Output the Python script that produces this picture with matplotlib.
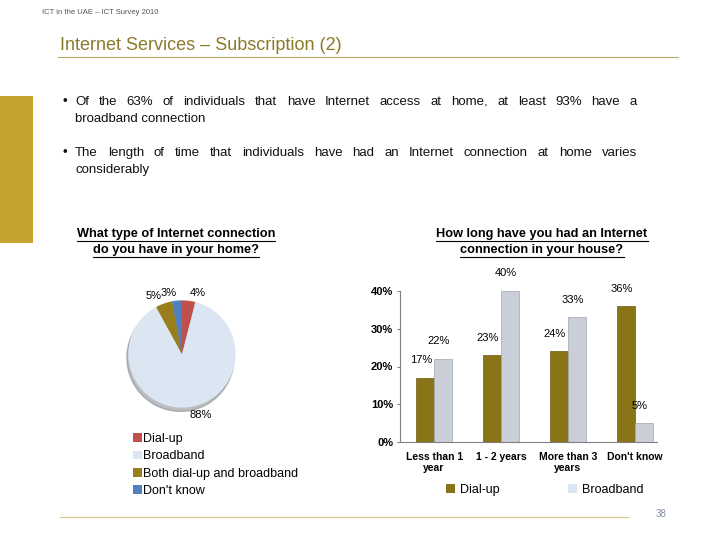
import matplotlib
matplotlib.use("Agg")
import matplotlib.pyplot as plt
from matplotlib.patches import Rectangle, Patch
from matplotlib.lines import Line2D

plt.rcParams['font.family'] = ['Liberation Sans', 'DejaVu Sans']

# pie data
pie_labels = ["Dial-up", "Broadband", "Both dial-up and broadband", "Don't know"]
pie_values = [4, 88, 5, 3]
pie_colors = ["#c0504d", "#dce6f2", "#9b7e1c", "#4f81bd"]

# bar data
bar_cats = ["Less than 1\nyear", "1 - 2 years", "More than 3\nyears", "Don't know"]
dialup = [17, 23, 24, 36]
broadband = [22, 40, 33, 5]
bar_ticks = [0, 10, 20, 30, 40]

bullets = [
    ["Of the 63% of individuals that have Internet access at home, at least 93% have a",
     "broadband connection"],
    ["The length of time that individuals have had an Internet connection at home varies",
     "considerably"],
]

W, H = 720, 540
fig = plt.figure(figsize=(7.2, 5.4), dpi=100)


def fx(x):
    return x / W


def fy(y):
    return 1 - y / H


def px_axes(left, top, right, bottom):
    return fig.add_axes([fx(left), fy(bottom), (right - left) / W, (bottom - top) / H])


olive = "#8c7a2a"

# header
fig.text(fx(42), fy(13), "ICT in the UAE \u2013 ICT Survey 2010", fontsize=5.5, color="#555555", va="center")
fig.text(fx(60), fy(45), "Internet Services \u2013 Subscription (2)", fontsize=13, color=olive, va="center")
fig.add_artist(Line2D([fx(58), fx(678)], [fy(57), fy(57)], color="#b8aa62", lw=0.8))
fig.add_artist(Rectangle((fx(0), fy(243)), fx(33), (243 - 96) / H, color="#c4a42e", lw=0))
fig.add_artist(Line2D([fx(60), fx(628)], [fy(517), fy(517)], color="#cfc48a", lw=0.8))
fig.text(fx(656), fy(514), "38", fontsize=7, color="#8090a8", va="center")

renderer = fig.canvas.get_renderer()


def justify(line, x0, x1, y, size):
    words = line.split(" ")
    texts = [fig.text(0, fy(y), w, fontsize=size, va="center", color="#111111") for w in words]
    widths = [t.get_window_extent(renderer).width for t in texts]
    gap = (x1 - x0 - sum(widths)) / max(len(words) - 1, 1)
    x = x0
    for t, w in zip(texts, widths):
        t.set_x(fx(x))
        x += w + gap


for lines, y0 in zip(bullets, [102, 153]):
    fig.text(fx(63), fy(y0), "\u2022", fontsize=9.5, va="center", color="#111111")
    justify(lines[0], 75, 637, y0, 9.5)
    fig.text(fx(75), fy(y0 + 17), lines[1], fontsize=9.5, va="center", color="#111111")


def underlined(lines, xc, ys, size):
    for line, y in zip(lines, ys):
        t = fig.text(fx(xc), fy(y), line, fontsize=size, fontweight="bold", ha="center", va="center")
        bb = t.get_window_extent(renderer)
        fig.add_artist(Line2D([bb.x0 / W, bb.x1 / W], [fy(y + 7), fy(y + 7)], color="black", lw=0.8))


underlined(["What type of Internet connection", "do you have in your home?"], 176, [234, 250], 9.2)
underlined(["How long have you had an Internet", "connection in your house?"], 542, [234, 250], 9.2)

# pie chart
ax1 = px_axes(182 - 59, 354 - 59, 182 + 59, 354 + 59)
wedges, texts = ax1.pie(pie_values, colors=pie_colors, startangle=90, counterclock=False,
                        labels=[f"{v}%" for v in pie_values], labeldistance=1.15,
                        shadow={'ox': -0.02, 'oy': -0.05, 'shade': 0.45},
                        textprops={'fontsize': 8})
ax1.set_xlim(-1.1, 1.1)
ax1.set_ylim(-1.1, 1.1)
ax1.set_aspect("equal")
handles = [Patch(facecolor=c, edgecolor="none") for c in pie_colors]
fig.legend(handles, pie_labels, loc="upper left", bbox_to_anchor=(fx(133), fy(433)),
           frameon=False, fontsize=9, handlelength=0.7, handleheight=0.7, handletextpad=0.1,
           labelspacing=0.42, borderaxespad=0, borderpad=0)

# bar chart
ax2 = px_axes(400, 291, 657, 442)
xs = list(range(len(bar_cats)))
bw = 0.27
b1 = ax2.bar([x - bw / 2 for x in xs], dialup, bw, color="#8a7418", edgecolor="#6e5c10", lw=0.5, label="Dial-up")
b2 = ax2.bar([x + bw / 2 for x in xs], broadband, bw, color="#c9ced9", edgecolor="#a0a6b2", lw=0.5, label="Broadband")
for bars in (b1, b2):
    for r in bars:
        ax2.annotate(f"{int(r.get_height())}%", (r.get_x() + r.get_width() / 2, r.get_height()),
                     xytext=(-3, 9), textcoords="offset points", ha="center", va="bottom",
                     fontsize=8)
ax2.set_xlim(-0.51, 3.33)
ax2.set_ylim(0, 40)
ax2.set_yticks(bar_ticks)
ax2.set_yticklabels([f"{t}%" for t in bar_ticks], fontsize=8, fontweight="bold")
ax2.set_xticks(xs)
ax2.set_xticklabels(bar_cats, fontsize=7.5, fontweight="bold")
ax2.tick_params(axis="x", length=0, pad=7)
ax2.tick_params(axis="y", length=2, color="#808080", pad=3)
for s in ("top", "right"):
    ax2.spines[s].set_visible(False)
for s in ("left", "bottom"):
    ax2.spines[s].set_color("#808080")
    ax2.spines[s].set_linewidth(0.8)
ax2.set_facecolor("none")
fig.legend([Patch(facecolor="#8a7418"), Patch(facecolor="#dce6f2")], ["Dial-up", "Broadband"],
           loc="center left", bbox_to_anchor=(fx(446), fy(490)), ncol=2, frameon=False,
           fontsize=9, handlelength=0.7, handleheight=0.7, handletextpad=0.4, columnspacing=5.5,
           borderaxespad=0, borderpad=0)

fig.savefig("out.png", dpi=100)
